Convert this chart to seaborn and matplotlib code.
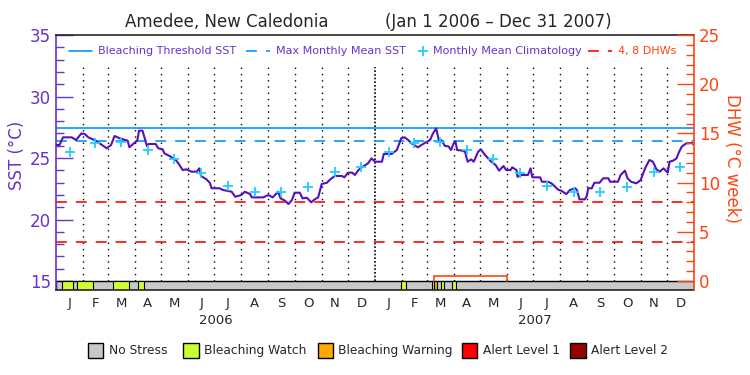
import matplotlib
matplotlib.use("Agg")
import matplotlib.pyplot as plt
from matplotlib.lines import Line2D
from matplotlib.patches import Rectangle
from matplotlib.ticker import MultipleLocator
import numpy as np
import pandas as pd
import seaborn as sns

# ---------------------------------------------------------------------------
# Data (days counted from 2006-01-01)
# ---------------------------------------------------------------------------
sst_day = [0, 4, 8, 18, 23, 29, 33, 37, 44, 50, 58, 63, 67, 73, 82, 84, 90, 93,
           95, 99, 102, 104, 106, 114, 117, 122, 124, 130, 137, 140, 145, 149,
           155, 161, 164, 166, 172, 176, 178, 187, 191, 201, 205, 212, 216, 222,
           224, 237, 243, 248, 254, 257, 262, 266, 270, 273, 279, 282, 287, 292,
           296, 300, 304, 310, 313, 319, 327, 330, 334, 339, 342, 346, 351, 357,
           361, 365, 373, 375, 384, 390, 395, 399, 403, 407, 414, 420, 428, 431,
           435, 438, 441, 445, 449, 452, 455, 457, 459, 465, 468, 471, 475, 478,
           483, 486, 491, 498, 503, 507, 512, 515, 520, 522, 527, 528, 533, 540,
           543, 545, 554, 556, 563, 567, 571, 575, 578, 584, 588, 594, 596, 599,
           605, 607, 609, 613, 616, 622, 626, 632, 634, 643, 646, 651, 654, 658,
           664, 669, 674, 679, 683, 687, 691, 695, 700, 702, 706, 710, 713, 716,
           721, 728, 730]
sst_val = [26.06, 26.06, 26.68, 26.68, 26.46, 27.00, 26.95, 26.68, 26.46, 26.19,
           25.79, 26.06, 26.79, 26.60, 26.41, 25.87, 26.25, 26.41, 27.22, 27.22,
           26.46, 25.98, 26.14, 26.14, 25.79, 25.71, 25.38, 25.16, 24.84, 24.57,
           24.02, 24.08, 23.89, 23.89, 24.16, 23.54, 23.27, 22.99, 22.54, 22.54,
           22.40, 22.26, 21.85, 21.99, 22.26, 22.07, 21.80, 21.80, 21.99, 21.80,
           22.26, 21.72, 21.53, 21.26, 21.59, 22.18, 22.18, 21.72, 21.77, 21.40,
           21.64, 21.80, 22.89, 22.99, 23.21, 23.54, 23.54, 23.43, 23.81, 23.81,
           23.62, 24.02, 24.29, 24.57, 24.97, 24.70, 24.70, 25.33, 25.33, 25.65,
           26.60, 26.68, 26.46, 26.19, 25.87, 26.14, 26.46, 26.95, 27.41, 26.46,
           26.44, 25.98, 25.95, 25.65, 26.19, 26.35, 25.65, 25.60, 25.51, 24.70,
           24.89, 24.70, 25.51, 25.71, 25.24, 24.70, 24.43, 23.97, 24.35, 24.02,
           24.02, 24.24, 24.02, 23.48, 23.62, 23.62, 24.16, 23.43, 23.43, 23.07,
           23.07, 22.94, 22.67, 22.40, 22.35, 22.07, 22.40, 22.54, 22.40, 21.64,
           21.64, 21.85, 22.54, 22.54, 22.99, 22.99, 23.35, 23.35, 23.07, 23.07,
           23.62, 23.97, 23.35, 23.07, 22.94, 23.21, 24.16, 24.84, 24.70, 24.08,
           23.89, 24.16, 23.81, 24.70, 24.78, 24.97, 25.51, 25.92, 26.19, 26.22,
           26.06]

clim_monthly = [25.46, 26.25, 26.30, 25.65, 24.89, 23.76,
                22.75, 22.26, 22.26, 22.62, 23.89, 24.29]

mmm_sst = 26.36
threshold_sst = 27.40
dhw_levels = [4, 8]

dhw_day = [432, 432, 516, 516]
dhw_val = [0.0, 0.5, 0.5, 0.0]

status_start = [7, 24, 65, 94, 395, 430, 432, 440, 453]
status_end = [20, 42, 83, 101, 401, 432, 436, 444, 458]
status_level = ["Bleaching Watch"] * 6 + ["Bleaching Warning"] + ["Bleaching Watch"] * 2

month_letters = list("JFMAMJJASOND") * 2
years = ["2006", "2007"]

status_colors = {
    "No Stress": "#c8c8c8",
    "Bleaching Watch": "#ccff33",
    "Bleaching Warning": "#ffaa00",
    "Alert Level 1": "#ff0000",
    "Alert Level 2": "#990000",
}

PURPLE = "#6633cc"
LINE = "#5511bb"
ORANGE = "#ff4411"
BLUE = "#1a9cff"
CYAN = "#22ccff"
RED = "#ff1a1a"
DASH = (0, (6, 5))

W, H = 750, 375


def fx(px):
    return px / W


def fy(py):
    return 1 - py / H


# ---------------------------------------------------------------------------
# Derived positions
# ---------------------------------------------------------------------------
start = pd.Timestamp("2006-01-01")
month_starts = pd.date_range("2006-01-01", "2008-01-01", freq="MS")
month_days = np.array([(d - start).days for d in month_starts])
mid_days = (month_days[:-1] + month_days[1:]) / 2.0

sst_df = pd.DataFrame({"day": sst_day, "sst": sst_val})
clim_df = pd.DataFrame({"day": mid_days, "sst": clim_monthly * 2})

strip_bottom, strip_top = 14.27, 15.0

sns.set_style("white")
plt.rcParams["font.family"] = ["DejaVu Sans"]

fig = plt.figure(figsize=(7.5, 3.75), dpi=100)
ax = fig.add_axes([fx(56), fy(290), fx(638), 255 / H])
ax.set_xlim(0, 730)
ax.set_ylim(strip_bottom, 35)

# month grid
ax.vlines([d for d in month_days[1:-1] if d != 365], strip_top, 32.4,
          colors="black", linestyles=(0, (1, 3.5)), lw=1)
ax.vlines([365], strip_top, 32.4, colors="black", linestyles=(0, (1, 1.2)), lw=1.2)

# reference lines
ax.axhline(threshold_sst, color=BLUE, lw=1.3)
ax.axhline(mmm_sst, color=BLUE, lw=1.3, ls=DASH)

# status strip
ax.bar(0, strip_top - strip_bottom, width=730, bottom=strip_bottom, align="edge",
       color=status_colors["No Stress"], edgecolor="black", lw=1)
for s, e, lev in zip(status_start, status_end, status_level):
    ax.bar(s, strip_top - strip_bottom, width=e - s, bottom=strip_bottom, align="edge",
           color=status_colors[lev], edgecolor="black", lw=0.8)

sns.lineplot(data=sst_df, x="day", y="sst", ax=ax, color=LINE, lw=1.5, zorder=5)
sns.scatterplot(data=clim_df, x="day", y="sst", ax=ax, marker="+", s=50,
                color=CYAN, linewidth=1.3, zorder=6)

ax.set_xlabel("")
ax.set_ylabel("SST (\u00b0C)", color=PURPLE, fontsize=12, va="center")
ax.yaxis.set_label_coords((17 - 56) / 638, (290 - 155) / 255)
ax.set_xticks(mid_days, labels=month_letters)
ax.tick_params(axis="x", length=0, pad=5, labelsize=9.5)
ax.yaxis.set_major_locator(MultipleLocator(5))
ax.yaxis.set_minor_locator(MultipleLocator(1))
ax.tick_params(axis="y", which="both", direction="in", colors=PURPLE,
               labelcolor=PURPLE, labelsize=12, width=1, left=True)
ax.tick_params(axis="y", which="major", length=12)
ax.tick_params(axis="y", which="minor", length=6)
ax.spines["left"].set_color(PURPLE)
ax.spines["right"].set_visible(False)
for side in ["left", "top", "bottom"]:
    ax.spines[side].set_linewidth(1.2)

# DHW axis
ax2 = ax.twinx()
ax2.set_ylim((strip_bottom - 15) * 1.25, 25)
ax2.plot(dhw_day, dhw_val, color=ORANGE, lw=1.2, zorder=4)
for lev in dhw_levels:
    ax2.axhline(lev, color=RED, lw=1.3, ls=DASH)
ax2.set_yticks(range(0, 26, 5))
ax2.set_yticks(range(0, 26), minor=True)
ax2.tick_params(axis="y", which="both", direction="in", colors=ORANGE,
                labelcolor=ORANGE, labelsize=12, width=1)
ax2.tick_params(axis="y", which="major", length=12)
ax2.tick_params(axis="y", which="minor", length=6)
ax2.set_ylabel("DHW (\u00b0C week)", color=ORANGE, fontsize=12, rotation=270,
               va="center")
ax2.yaxis.set_label_coords((732 - 56) / 638, (290 - 158) / 255)
for side in ["left", "top", "bottom"]:
    ax2.spines[side].set_visible(False)
ax2.spines["right"].set_color(ORANGE)
ax2.spines["right"].set_linewidth(1.2)

# top legend, placed item by item as in the reference
ly = fy(51)
fig.add_artist(Line2D([fx(69), fx(92)], [ly, ly], color=BLUE, lw=1.3))
fig.add_artist(Line2D([fx(246), fx(270)], [ly, ly], color=BLUE, lw=1.3, ls=DASH))
fig.add_artist(Line2D([fx(422.7)], [ly], color=CYAN, marker="+", ls="none",
                      markersize=7, mew=1.3))
fig.add_artist(Line2D([fx(588), fx(612)], [ly, ly], color=RED, lw=1.3, ls=DASH))
legend_items = [(98, "Bleaching Threshold SST", PURPLE),
                (276.5, "Max Monthly Mean SST", PURPLE),
                (433, "Monthly Mean Climatology", PURPLE),
                (617.5, "4, 8 DHWs", ORANGE)]
for x0, txt, col in legend_items:
    fig.text(fx(x0), ly, txt, color=col, fontsize=8, ha="left", va="center")

# year labels
for i, yr in enumerate(years):
    ax.text(182.5 + 365 * i, -0.12, yr, transform=ax.get_xaxis_transform(),
            ha="center", va="center", fontsize=9.5)

# title
fig.text(fx(227), fy(22), "Amedee, New Caledonia", ha="center", va="center",
         fontsize=12)
fig.text(fx(498), fy(22), "(Jan 1 2006 \u2013 Dec 31 2007)", ha="center",
         va="center", fontsize=12)

# status legend
box_x = [87.6, 183.4, 317.5, 461.7, 570]
for bx, (name, col) in zip(box_x, status_colors.items()):
    fig.add_artist(Rectangle((fx(bx), fy(358)), fx(15.5), 15.5 / H,
                             facecolor=col, edgecolor="black", lw=1))
    fig.text(fx(bx + 21), fy(350.5), name, fontsize=8.8, ha="left", va="center")

fig.savefig("out.png", dpi=100)
